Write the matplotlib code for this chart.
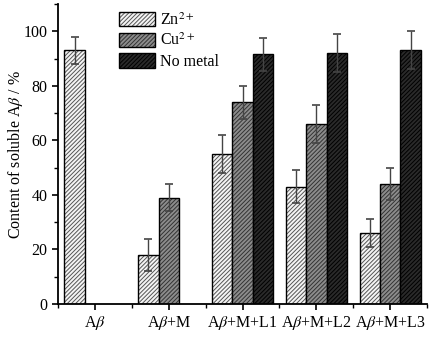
import numpy as np
import matplotlib
matplotlib.use("Agg")
from matplotlib import pyplot as plt
from matplotlib.ticker import MultipleLocator

plt.rcParams['font.family'] = ['Liberation Serif', 'DejaVu Serif']
plt.rcParams['mathtext.fontset'] = 'stix'
plt.rcParams['hatch.linewidth'] = 0.7

# data
groups = ['A$\\beta$', 'A$\\beta$+M', 'A$\\beta$+M+L1', 'A$\\beta$+M+L2', 'A$\\beta$+M+L3']
zn = [93, 18, 55, 43, 26]
zn_err = [5, 6, 7, 6, 5]
cu = [np.nan, 39, 74, 66, 44]
cu_err = [np.nan, 5, 6, 7, 6]
nometal = [np.nan, np.nan, 91.5, 92, 93]
nometal_err = [np.nan, np.nan, 6, 7, 7]
series_names = ['Zn$^{2+}$', 'Cu$^{2+}$', 'No metal']

fig = plt.figure(figsize=(4.34, 3.37), dpi=100)
ax = fig.add_axes([0.134, 0.098, 0.85, 0.89])

x = np.arange(len(groups))
w = 0.277
faces = ['#f4f4f4', '#8c8c8c', '#2a2a2a']
hatch_cols = ['#555555', '#333333', '#000000']
errc = '#444444'
for i, (vals, errs) in enumerate([(zn, zn_err), (cu, cu_err), (nometal, nometal_err)]):
    bars = ax.bar(x + (i - 1) * w, vals, w, color=faces[i], edgecolor='black',
                  hatch='////////', linewidth=1.0, label=series_names[i])
    for b in bars:
        b._hatch_color = matplotlib.colors.to_rgba(hatch_cols[i])
    ax.errorbar(x + (i - 1) * w, vals, yerr=errs, fmt='none', ecolor=errc,
                elinewidth=1.0, capsize=3, capthick=1.2)

ax.set_xlim(-0.5, 4.5)
ax.set_ylim(0, 110)
ax.set_xticks(x)
ax.set_xticklabels(groups)
ax.xaxis.set_minor_locator(MultipleLocator(1, offset=0.5))
ax.yaxis.set_major_locator(MultipleLocator(20))
ax.yaxis.set_minor_locator(MultipleLocator(10))
ax.tick_params(axis='both', which='major', direction='out', length=4, width=1.2, labelsize=11.5)
ax.tick_params(axis='both', which='minor', direction='out', length=3, width=1.0)
ax.spines['top'].set_visible(False)
ax.spines['right'].set_visible(False)
ax.spines['left'].set_linewidth(1.3)
ax.spines['bottom'].set_linewidth(1.3)
ax.set_ylabel('Content of soluble A$\\beta$ / %', fontsize=11.5, labelpad=-1)

ax.legend(loc='upper left', bbox_to_anchor=(0.138, 1.005), frameon=False, fontsize=11.5,
          handlelength=2.3, handleheight=1.0, handletextpad=0.3, labelspacing=0.25,
          borderaxespad=0.2)

fig.savefig('out.png', dpi=100)
